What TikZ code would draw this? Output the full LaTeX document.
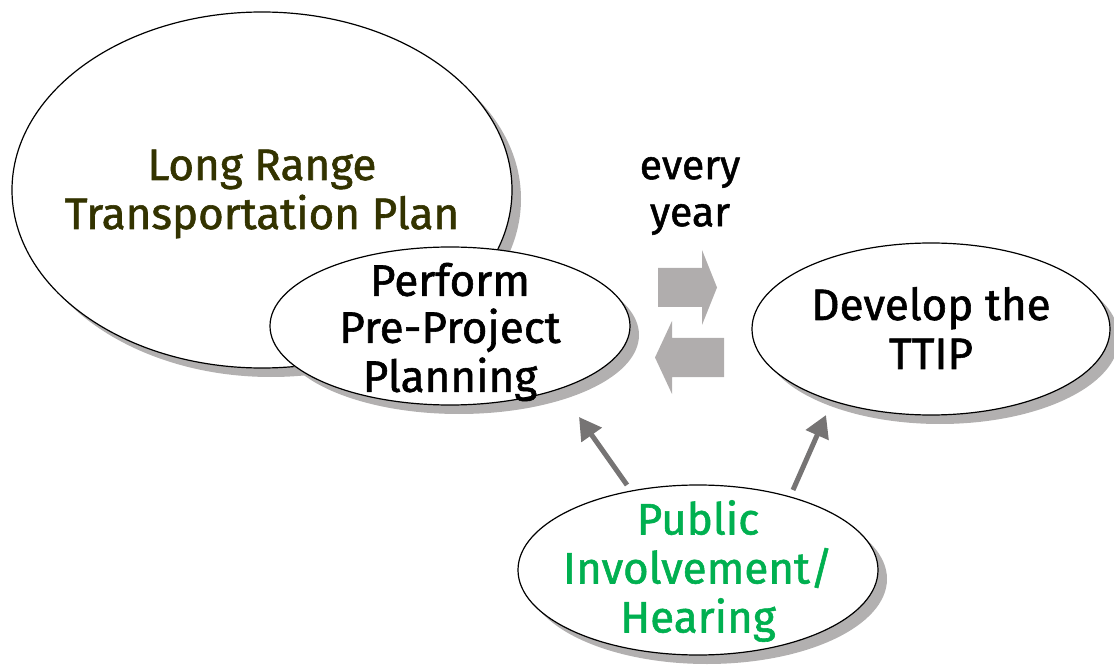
\documentclass[tikz,border=0pt]{standalone}
\usepackage{fontspec}
\setmainfont{Fira Sans}
\newfontfamily\heavy{Fira Sans}[FakeBold=1.3]
\usetikzlibrary{shapes.geometric,shadows,arrows.meta}
\definecolor{olivetext}{RGB}{51,51,0}
\definecolor{pubgreen}{RGB}{0,176,80}
\definecolor{shadowgray}{RGB}{178,176,176}
\definecolor{blockgray}{RGB}{176,173,173}
\definecolor{linegray}{RGB}{118,116,116}
\begin{document}
\begin{tikzpicture}[x=1pt,y=-1pt,
  bubble/.style={ellipse, draw=black, line width=1.2pt, fill=white, inner sep=0pt,
    drop shadow={shadow xshift=9pt, shadow yshift=-9pt, fill=shadowgray, opacity=1}},
  txt/.style={align=center, inner sep=0pt, font=\heavy\fontsize{44}{49}\selectfont},
  label/.style={align=center, inner sep=0pt, font=\heavy\fontsize{41}{47}\selectfont},
  conn/.style={draw=linegray, line width=5pt, -{Triangle[length=22pt,width=24pt]}},
  blockarrow/.style={fill=blockgray}]
\useasboundingbox (0,0) rectangle (1114,668);
\node[bubble, minimum width=500pt, minimum height=356pt] (lrtp) at (262,190) {};
\node[txt, text=olivetext] (lrtpt) at (262,194) {Long Range\\Transportation Plan};
\node[bubble, minimum width=360pt, minimum height=158pt] (perf) at (450,326) {};
\node[txt, text=black] (perft) at (450,332) {Perform\\[-2pt]Pre-Project\\Planning};
\node[bubble, minimum width=358pt, minimum height=172pt] (ttip) at (931,329) {};
\node[txt] (ttipt) at (931,328) {Develop the\\TTIP};
\node[bubble, minimum width=360pt, minimum height=170pt] (pub) at (698,570) {};
\node[txt, text=pubgreen] (pubt) at (698,571) {Public\\Involvement/\\Hearing};
\node[label] (every) at (690,196) {every\\year};
\fill[blockarrow] (658,268) -- (702,268) -- (702,250) -- (717,287.5) -- (702,325) -- (702,307) -- (658,307) -- cycle;
\fill[blockarrow] (724,338) -- (672,338) -- (672,321) -- (655,357.5) -- (672,394) -- (672,377) -- (724,377) -- cycle;
\coordinate (a1s) at (627,485);
\coordinate (a1e) at (579,417);
\coordinate (a2s) at (793,490);
\coordinate (a2e) at (826,415);
\draw[conn] (a1s) -- (a1e);
\draw[conn] (a2s) -- (a2e);
\end{tikzpicture}
\end{document}
